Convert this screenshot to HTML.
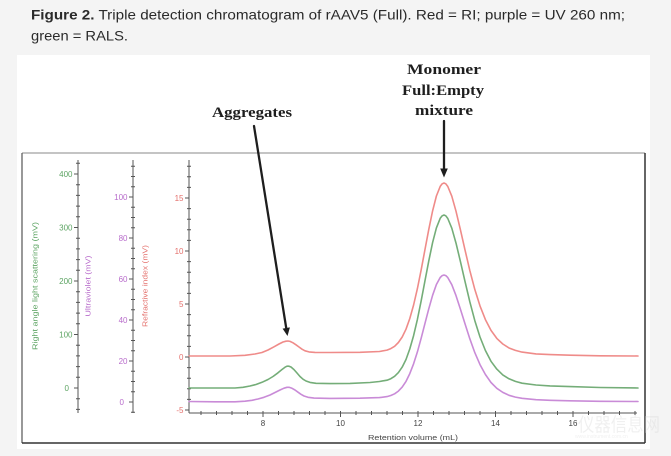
<!DOCTYPE html>
<html>
<head>
<meta charset="utf-8">
<style>
  html,body{margin:0;padding:0;background:#f4f4f4;}
  body{width:671px;height:456px;overflow:hidden;}
  svg{display:block;}
</style>
</head>
<body>
<svg width="671" height="456" viewBox="0 0 671 456" xmlns="http://www.w3.org/2000/svg">
  <rect x="0" y="0" width="671" height="456" fill="#f4f4f4"/>
  <!-- Title -->
  <text x="31" y="19.5" font-family="Liberation Sans, Arial, sans-serif" font-size="14" fill="#2a2a2a" textLength="594" lengthAdjust="spacingAndGlyphs"><tspan font-weight="bold">Figure 2.</tspan> Triple detection chromatogram of rAAV5 (Full). Red = RI; purple = UV 260 nm;</text>
  <text x="31" y="40.5" font-family="Liberation Sans, Arial, sans-serif" font-size="14" fill="#2a2a2a" textLength="97" lengthAdjust="spacingAndGlyphs">green = RALS.</text>

  <!-- white panel -->
  <rect x="17" y="55" width="633" height="394" fill="#ffffff"/>

  <!-- annotations -->
  <g font-family="Liberation Serif, Times New Roman, serif" font-weight="bold" font-size="15" fill="#1e1e1e" text-anchor="middle">
    <text x="252" y="117" textLength="80" lengthAdjust="spacingAndGlyphs">Aggregates</text>
    <text x="444" y="74" textLength="74" lengthAdjust="spacingAndGlyphs">Monomer</text>
    <text x="443" y="95" textLength="82" lengthAdjust="spacingAndGlyphs">Full:Empty</text>
    <text x="444" y="115" textLength="58" lengthAdjust="spacingAndGlyphs">mixture</text>
  </g>

  <!-- frame -->
  <line x1="22" y1="153" x2="645" y2="153" stroke="#8a8a8a" stroke-width="1"/>
  <line x1="22" y1="153" x2="22" y2="443" stroke="#555" stroke-width="1.2"/>
  <line x1="645" y1="153" x2="645" y2="443" stroke="#333" stroke-width="1.5"/>
  <line x1="22" y1="443" x2="645" y2="443" stroke="#333" stroke-width="1.5"/>

  <!-- arrows -->
  <g stroke="#1e1e1e" stroke-width="2.3" fill="none" stroke-linecap="round">
    <line x1="254" y1="126" x2="286.3" y2="328.5"/>
    <line x1="444" y1="121" x2="444" y2="170"/>
  </g>
  <polygon points="287.5,336 289.9,327.4 282.6,328.6" fill="#1e1e1e"/>
  <polygon points="444,177.5 440.2,168.5 447.8,168.5" fill="#1e1e1e"/>

  <!-- Axes -->
  <g stroke="#555" stroke-width="1" fill="none">
    <path d="M78,160V413"/>
    <path d="M74,174H78M74,227.5H78M74,281H78M74,334.5H78M74,388H78"/>
    <path d="M76,163.3H80M76,184.7H80M76,195.4H80M76,206.1H80M76,216.8H80M76,238.2H80M76,248.9H80M76,259.6H80M76,270.3H80M76,291.7H80M76,302.4H80M76,313.1H80M76,323.8H80M76,345.2H80M76,355.9H80M76,366.6H80M76,377.3H80M76,398.7H80M76,409.4H80"/>
    <path d="M133,160V413"/>
    <path d="M129,402H133M129,361H133M129,320H133M129,279H133M129,238H133M129,197H133"/>
    <path d="M131,412.25H135M131,391.75H135M131,381.5H135M131,371.25H135M131,350.75H135M131,340.5H135M131,330.25H135M131,309.75H135M131,299.5H135M131,289.25H135M131,268.75H135M131,258.5H135M131,248.25H135M131,227.75H135M131,217.5H135M131,207.25H135M131,186.75H135M131,176.5H135M131,166.25H135"/>
    <path d="M189,160V413"/>
    <path d="M185,410H189M185,357H189M185,304H189M185,251H189M185,198H189"/>
    <path d="M187,399.4H191M187,388.8H191M187,378.2H191M187,367.6H191M187,346.4H191M187,335.8H191M187,325.2H191M187,314.6H191M187,293.4H191M187,282.8H191M187,272.2H191M187,261.6H191M187,240.4H191M187,229.8H191M187,219.2H191M187,208.6H191M187,187.4H191M187,176.8H191M187,166.2H191"/>
    <path d="M189,413H637"/>
    <path d="M263,411V417M340.5,411V417M418,411V417M495.5,411V417M573,411V417"/>
    <path d="M201,411V415M216.5,411V415M232,411V415M247.5,411V415M278.5,411V415M294,411V415M309.5,411V415M325,411V415M356,411V415M371.5,411V415M387,411V415M402.5,411V415M433.5,411V415M449,411V415M464.5,411V415M480,411V415M511,411V415M526.5,411V415M542,411V415M557.5,411V415M588.5,411V415M604,411V415M619.5,411V415M635,411V415"/>
  </g>

  <!-- tick labels -->
  <g font-family="Liberation Sans, Arial, sans-serif" font-size="8" text-anchor="end">
    <g fill="#5da463">
      <text x="72.5" y="177">400</text>
      <text x="72.5" y="230.5">300</text>
      <text x="72.5" y="284">200</text>
      <text x="72.5" y="337.5">100</text>
      <text x="69" y="391">0</text>
    </g>
    <g fill="#b86ccb">
      <text x="127.5" y="200">100</text>
      <text x="127.5" y="241">80</text>
      <text x="127.5" y="282">60</text>
      <text x="127.5" y="323">40</text>
      <text x="127.5" y="364">20</text>
      <text x="124" y="405">0</text>
    </g>
    <g fill="#e4716d">
      <text x="183.5" y="201">15</text>
      <text x="183.5" y="254">10</text>
      <text x="183.5" y="307">5</text>
      <text x="183.5" y="360">0</text>
      <text x="183.5" y="413">-5</text>
    </g>
  </g>
  <g font-family="Liberation Sans, Arial, sans-serif" font-size="8" fill="#444" text-anchor="middle">
    <text x="263" y="426">8</text>
    <text x="340.5" y="426">10</text>
    <text x="418" y="426">12</text>
    <text x="495.5" y="426">14</text>
    <text x="573" y="426">16</text>
    <text x="413" y="440" font-size="7.5" textLength="90" lengthAdjust="spacingAndGlyphs">Retention volume (mL)</text>
  </g>

  <!-- axis titles -->
  <g font-family="Liberation Sans, Arial, sans-serif" font-size="7.5" text-anchor="middle">
    <text transform="translate(37.5,286) rotate(-90)" fill="#5da463" textLength="128" lengthAdjust="spacingAndGlyphs">Right angle light scattering (mV)</text>
    <text transform="translate(90.5,286) rotate(-90)" fill="#b86ccb" textLength="61" lengthAdjust="spacingAndGlyphs">Ultraviolet (mV)</text>
    <text transform="translate(147.5,286) rotate(-90)" fill="#e4716d" textLength="82" lengthAdjust="spacingAndGlyphs">Refractive index (mV)</text>
  </g>

  <!-- series -->
  <g fill="none" stroke-width="1.6" stroke-linejoin="round" stroke-linecap="round">
    <polyline stroke="#ef8b89" points="189,356 230,356 245,355.3 255,354 262,352.5 268,350 274,346.8 279,344 283,342 286,341.2 288,341 290,341.4 293,342.8 296,344.8 299,347 302,349.2 305,350.8 309,351.9 315,352.4 330,352.5 360,352.3 379.4,351.5 387,350.1 390.8,348.6 394.6,346.3 398.4,342.5 402.2,337 406,329.2 409.8,318.5 413.6,305 417.4,288.6 421.2,269.7 425,249.4 428.8,229.3 432.6,210.9 436.4,196 440.2,186.4 442.2,183.8 444,183 445.8,183.8 447.8,186.5 451.8,196.2 456,211.2 460.4,229.7 465,249.9 469.8,270.4 474.8,289.4 480,305.9 485.4,319.6 491,330.4 496.8,338.4 502.8,344 509,348 515.4,350.4 522,352.1 536,353.9 550,354.6 570,355.2 600,355.8 638,356"/>
    <polyline stroke="#74ad78" points="189,388 235,388 243,387.3 250,386 256,384.5 262,382.3 268,379.5 273,376.5 278,372.8 282,369.5 285,367.2 287,366.2 289,366.2 291,367 294,369.6 297,373 300,376.5 303,379.2 306,381 310,382.4 316,383.3 330,383.6 350,383.4 370,382.5 379.4,381.5 387,380.2 390.8,378.7 394.6,376.3 398.4,372.6 402.2,367.1 406,359.5 409.8,348.9 413.6,335.6 417.4,319.4 421.2,300.7 425,280.6 428.8,260.8 432.6,242.6 436.4,227.9 440.2,218.3 442.2,215.8 444,215 445.8,215.8 447.8,218.5 451.8,228.2 456,243.1 460.4,261.4 465,281.4 469.8,301.7 474.8,320.6 480,337 485.4,350.5 491,361.3 496.8,369.1 502.8,374.9 509,378.8 515.4,381.4 522,383.2 536,385 550,385.9 570,386.6 600,387.5 638,388"/>
    <polyline stroke="#c98bd7" points="189,401.5 215,401.8 235,401.8 245,401.2 252,400.3 258,399 264,397.3 270,395 275,392.5 280,390 284,388.2 287,387.3 289,387.3 292,388.3 295,390 298,392.2 301,394.3 304,396 308,397.3 314,398.1 330,398.4 360,398.2 379.4,397.6 387,396.6 390.8,395.5 394.6,393.8 398.4,391.1 402.2,387.1 406,381.4 409.8,373.6 413.6,363.8 417.4,351.9 421.2,338.1 425,323.3 428.8,308.7 432.6,295.3 436.4,284.5 440.2,277.5 442.2,275.6 444,275 445.8,275.6 447.8,277.6 451.8,284.7 456,295.6 460.4,309.1 465,323.8 469.8,338.7 474.8,352.6 480,364.6 485.4,374.5 491,382.5 496.8,388.3 502.8,392.4 509,395.3 515.4,397.1 522,398.3 536,399.7 550,400.3 570,400.8 600,401.3 638,401.5"/>
  </g>

  <!-- watermark -->
  <g opacity="0.35">
    <text x="578" y="431" font-family="Liberation Sans, 'Noto Sans CJK SC', sans-serif" font-size="19" fill="#d6d6d6" textLength="82" lengthAdjust="spacingAndGlyphs">仪器信息网</text>
    <text x="575" y="438" font-family="Liberation Sans, sans-serif" font-size="5" fill="#d6d6d6">www.instrument.com.cn</text>
  </g>
</svg>
</body>
</html>
